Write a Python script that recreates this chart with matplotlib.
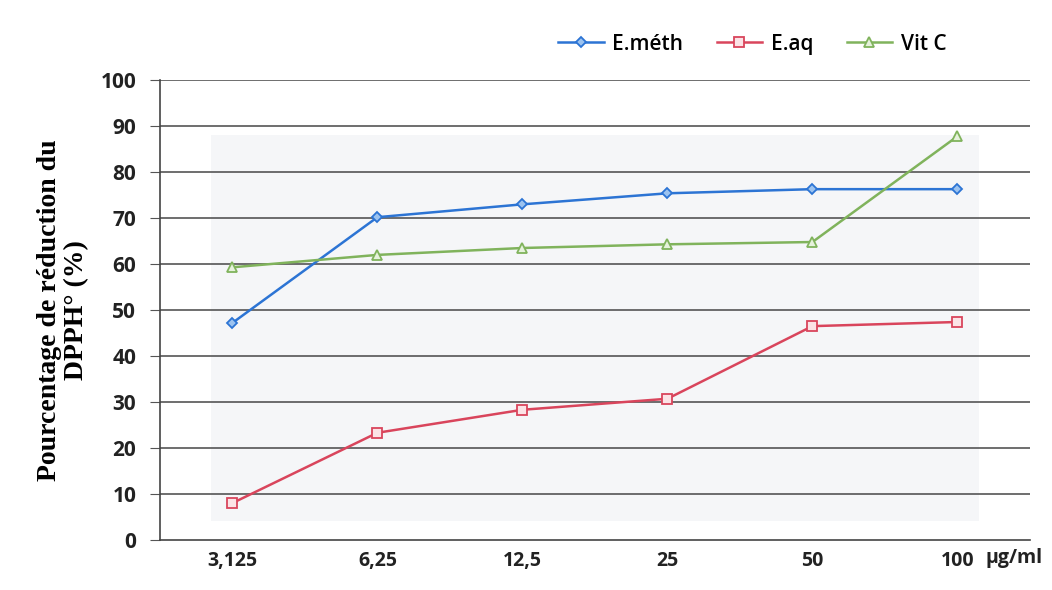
import matplotlib.pyplot as plt
from matplotlib.patches import Rectangle

conc = ['3,125', '6,25', '12,5', '25', '50', '100']
e_meth = [47.2, 70.2, 73.0, 75.4, 76.3, 76.3]
e_aq = [8.0, 23.3, 28.3, 30.7, 46.5, 47.4]
vit_c = [59.3, 62.0, 63.5, 64.3, 64.8, 87.8]
yticks = [0, 10, 20, 30, 40, 50, 60, 70, 80, 90, 100]

blue = '#2c74d4'
red = '#d9455c'
green = '#80b35c'

fig = plt.figure(figsize=(10.52, 5.9), dpi=100)
ax = fig.add_axes([0.152, 0.085, 0.827, 0.779])

x = list(range(len(conc)))
# faint grey panel behind the series (scan shading)
ax.add_patch(Rectangle((-0.15, 4), 5.3, 84, facecolor='#f5f6f8', edgecolor='none', zorder=0))

for yv in yticks[1:]:
    ax.axhline(yv, color='#555555', lw=1.2, zorder=1)

ax.plot(x, e_meth, color=blue, lw=1.8, marker='D', ms=5, mfc='#9cc3f0', mec=blue, mew=1.3, label='E.méth', zorder=3)
ax.plot(x, e_aq, color=red, lw=1.8, marker='s', ms=7, mfc='#fbe3e6', mec=red, mew=1.3, label='E.aq', zorder=3)
ax.plot(x, vit_c, color=green, lw=1.8, marker='^', ms=7, mfc='#e6f2dc', mec=green, mew=1.3, label='Vit C', zorder=3)

ax.set_xlim(-0.5, 5.5)
ax.set_ylim(0, 100)
ax.set_xticks(x)
ax.set_xticklabels(conc, fontsize=14, fontweight='bold', family=['Open Sans', 'DejaVu Sans'], color='#222222')
ax.tick_params(axis='x', length=0, pad=8)
ax.set_yticks(yticks)
ax.set_yticklabels([str(v) for v in yticks], fontsize=15, fontweight='bold', family=['Open Sans', 'DejaVu Sans'], color='#222222')
ax.tick_params(axis='y', direction='out', length=7, color='#555555', pad=10)

for s in ['top', 'right']:
    ax.spines[s].set_visible(False)
ax.spines['left'].set_color('#444444')
ax.spines['bottom'].set_color('#444444')
ax.spines['left'].set_linewidth(1.2)
ax.spines['bottom'].set_linewidth(1.2)

ax.set_ylabel('Pourcentage de réduction du\nDPPH° (%)', fontsize=20, fontweight='bold',
              family=['Liberation Serif', 'DejaVu Serif'], labelpad=8, linespacing=1.15)

fig.text(0.937, 0.045, 'µg/ml', fontsize=14, fontweight='bold', family=['Open Sans', 'DejaVu Sans'], color='#222222')

fig.legend(loc='center', bbox_to_anchor=(0.715, 0.925), ncol=3, frameon=False,
           prop={'family': ['Open Sans', 'DejaVu Sans'], 'size': 15, 'weight': 'semibold'},
           handlelength=2.2, columnspacing=1.6, handletextpad=0.4)

fig.savefig('out.png', dpi=100)
